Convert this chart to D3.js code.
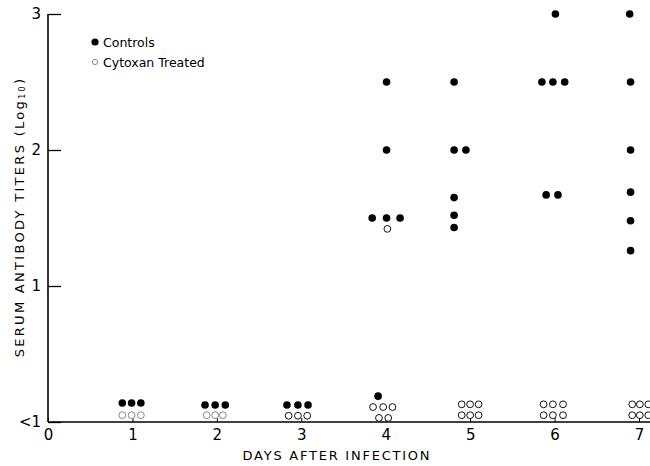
<!DOCTYPE html>
<html>
<head>
<meta charset="utf-8">
<script src="https://cdn.jsdelivr.net/npm/d3@7"></script>
<style>
  body { margin: 0; background: #fff; }
  text { font-family: "DejaVu Sans", sans-serif; fill: #000; }
</style>
</head>
<body>
<svg id="chart" width="650" height="466"></svg>
<script>
// day ticks and log10 titer ticks (0 stands for the "<1" band)
const dayTicks = [0, 1, 2, 3, 4, 5, 6, 7];
const titerTicks = [0, 1, 2, 3];

// [day position, log10 titer]
const controls = [
  [0.88, 0.14], [0.99, 0.14], [1.10, 0.14],
  [1.86, 0.125], [1.98, 0.125], [2.10, 0.125],
  [2.83, 0.125], [2.96, 0.125], [3.08, 0.125],
  [3.91, 0.19], [3.84, 1.50], [4.01, 1.50], [4.17, 1.50], [4.01, 2.0], [4.01, 2.5],
  [4.81, 1.43], [4.81, 1.52], [4.81, 1.65], [4.81, 2.0], [4.95, 2.0], [4.81, 2.5],
  [5.90, 1.67], [6.04, 1.67], [5.85, 2.5], [5.98, 2.5], [6.12, 2.5], [6.01, 3.0],
  [6.90, 1.26], [6.90, 1.48], [6.90, 1.69], [6.90, 2.0], [6.90, 2.5], [6.89, 3.0]
];
const cytoxan = [
  [0.88, 0.05], [0.99, 0.05], [1.10, 0.05],
  [1.88, 0.05], [1.98, 0.05], [2.07, 0.05],
  [2.85, 0.046], [2.96, 0.046], [3.07, 0.046],
  [3.85, 0.11], [3.97, 0.11], [4.08, 0.11], [3.92, 0.03], [4.03, 0.03], [4.02, 1.42],
  [4.90, 0.13], [5.00, 0.13], [5.10, 0.13], [4.90, 0.05], [5.00, 0.05], [5.10, 0.05],
  [5.87, 0.13], [5.98, 0.13], [6.10, 0.13], [5.87, 0.05], [5.98, 0.05], [6.10, 0.05],
  [6.92, 0.13], [7.01, 0.13], [7.11, 0.13], [6.92, 0.05], [7.01, 0.05], [7.11, 0.05]
];
const legendItems = ["Controls", "Cytoxan Treated"];

const svg = d3.select("#chart");
const W = 650;
const x = d3.scaleLinear([0, 7], [48, 639]);
const y = d3.scaleLinear([0, 3], [422, 14]);

// axis lines
svg.append("line")
  .attr("x1", x(0)).attr("x2", W)
  .attr("y1", y(0)).attr("y2", y(0))
  .attr("stroke", "#000").attr("stroke-width", 1.6);
svg.append("line")
  .attr("x1", x(0)).attr("x2", x(0))
  .attr("y1", y(0)).attr("y2", y(3))
  .attr("stroke", "#000").attr("stroke-width", 1.6);

const yAxis = d3.axisLeft(y)
  .tickValues(titerTicks)
  .tickSizeInner(-13)
  .tickSizeOuter(0)
  .tickPadding(7)
  .tickFormat(d => d === 0 ? "<1" : d);
const gy = svg.append("g").attr("transform", `translate(${x(0)},0)`).call(yAxis);
gy.select(".domain").remove();
gy.selectAll("line").attr("stroke-width", 1.3);
gy.selectAll("text").attr("font-size", 15).style("font-family", "DejaVu Sans, sans-serif");

const xAxis = d3.axisBottom(x)
  .tickValues(dayTicks)
  .tickSizeInner(-4)
  .tickSizeOuter(0)
  .tickPadding(7)
  .tickFormat(d3.format("d"));
const gx = svg.append("g").attr("transform", `translate(0,${y(0)})`).call(xAxis);
gx.select(".domain").remove();
gx.selectAll("text").attr("font-size", 15).style("font-family", "DejaVu Sans, sans-serif");

// axis titles
const yt = svg.append("text")
  .attr("transform", `translate(19,217) rotate(-90)`)
  .attr("text-anchor", "middle")
  .attr("dominant-baseline", "central")
  .attr("font-size", 13)
  .attr("letter-spacing", 2.3);
yt.append("tspan").text("SERUM ANTIBODY TITERS (Log");
yt.append("tspan").attr("font-size", 8).attr("dy", 3).text("10");
yt.append("tspan").attr("dy", -3).text(")");

svg.append("text")
  .attr("x", 336).attr("y", 455)
  .attr("text-anchor", "middle")
  .attr("dominant-baseline", "central")
  .attr("font-size", 13)
  .attr("textLength", 187)
  .attr("lengthAdjust", "spacing")
  .text("DAYS AFTER INFECTION");

// points
svg.append("g").selectAll("circle")
  .data(cytoxan).join("circle")
  .attr("cx", d => x(d[0])).attr("cy", d => y(d[1]))
  .attr("r", 3.4)
  .attr("fill", "#fff")
  .attr("stroke", d => d[0] < 2.5 ? "#888" : "#111")
  .attr("stroke-width", 1);

svg.append("g").selectAll("circle")
  .data(controls).join("circle")
  .attr("cx", d => x(d[0])).attr("cy", d => y(d[1]))
  .attr("r", 3.8)
  .attr("fill", "#000");

// legend
const lg = svg.append("g").attr("transform", "translate(95,42)");
lg.selectAll("text").data(legendItems).join("text")
  .attr("x", 8).attr("y", (d, i) => i * 20)
  .attr("dominant-baseline", "central")
  .attr("font-size", 12.5)
  .text(d => d);
lg.append("circle").attr("cx", 0).attr("cy", 0).attr("r", 3.6).attr("fill", "#000");
lg.append("circle").attr("cx", 0).attr("cy", 20).attr("r", 2.6)
  .attr("fill", "#fff").attr("stroke", "#888").attr("stroke-width", 1);
</script>
</body>
</html>
